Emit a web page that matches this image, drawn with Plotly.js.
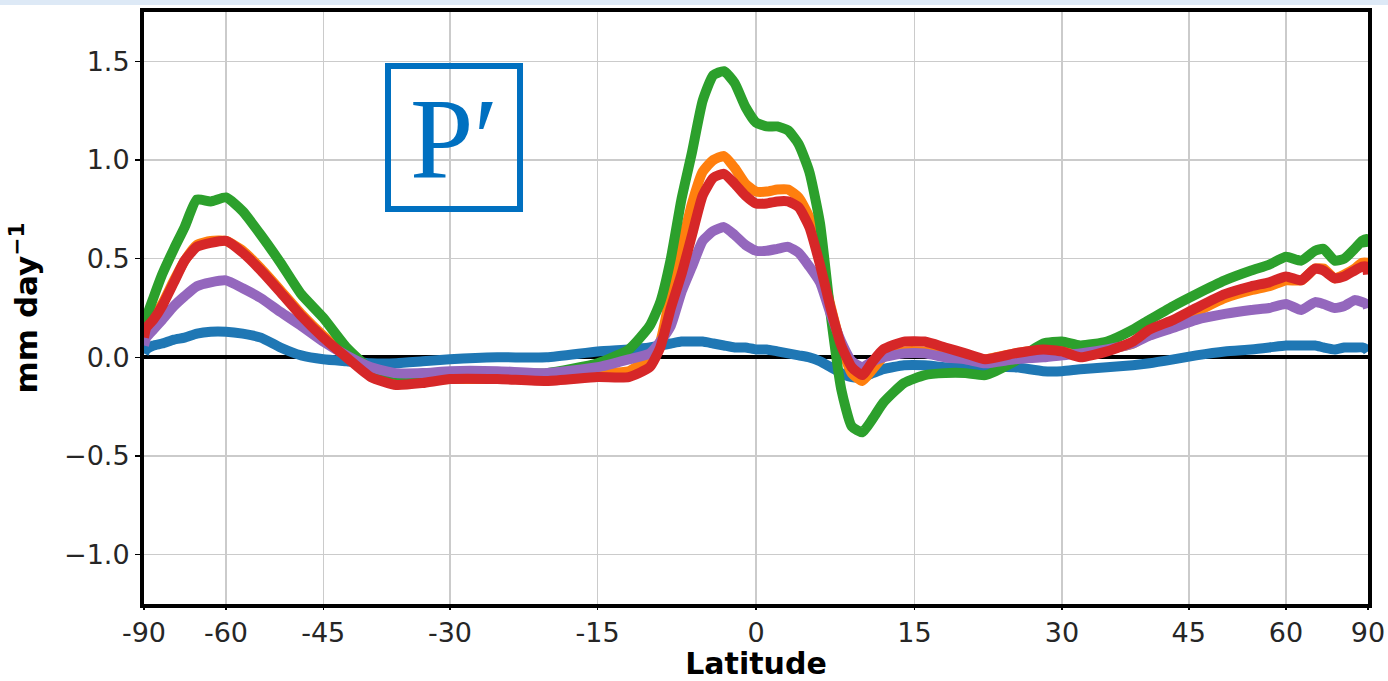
<!DOCTYPE html>
<html>
<head>
<meta charset="utf-8">
<script src="https://cdn.plot.ly/plotly-3.0.1.min.js"></script>
<style>
html,body{margin:0;padding:0;background:#ffffff;}
#chart{width:1388px;height:681px;}
</style>
</head>
<body>
<div id="chart"></div>
<script>
// Latitude grid (degrees)
const lat = [-90,-85,-80,-76,-72,-69,-66,-63,-60,-57,-54,-51,-48,-45,-42,-39,-36,-33,-30,-25,-20,-15,-12,-10,-9,-8,-7,-6,-5,-4,-3,-2,-1,0,1,2,3,4,5,6,7,8,9,10,11,12,14,16,18,20,22,25,28,30,32,35,38,40,43,46,50,54,57,60,63,66,68,71,74,78,82,86,90];

const blueVals = [0.02,0.04,0.06,0.07,0.09,0.10,0.12,0.13,0.13,0.12,0.10,0.05,0.01,-0.01,-0.02,-0.03,-0.03,-0.02,-0.01,0.00,0.00,0.03,0.04,0.05,0.06,0.07,0.08,0.08,0.08,0.07,0.06,0.05,0.05,0.04,0.04,0.03,0.02,0.01,0.00,-0.02,-0.05,-0.08,-0.10,-0.10,-0.08,-0.06,-0.04,-0.04,-0.05,-0.05,-0.05,-0.05,-0.07,-0.07,-0.06,-0.05,-0.04,-0.03,-0.01,0.01,0.03,0.04,0.05,0.06,0.06,0.06,0.05,0.04,0.05,0.05,0.05,0.04,0.03];

const orangeVals = [0.10,0.15,0.20,0.27,0.39,0.49,0.57,0.59,0.59,0.54,0.45,0.34,0.22,0.11,0.01,-0.09,-0.12,-0.12,-0.11,-0.11,-0.11,-0.08,-0.07,0.00,0.08,0.33,0.56,0.78,0.94,1.00,1.02,0.96,0.88,0.84,0.84,0.85,0.85,0.81,0.71,0.50,0.26,0.06,-0.08,-0.12,-0.06,0.00,0.03,0.03,0.02,0.00,-0.01,0.02,0.04,0.04,0.03,0.04,0.07,0.12,0.17,0.23,0.30,0.34,0.36,0.39,0.39,0.45,0.45,0.40,0.42,0.45,0.48,0.48,0.47];

const greenVals = [0.13,0.20,0.30,0.42,0.55,0.66,0.80,0.79,0.81,0.74,0.62,0.48,0.32,0.20,0.05,-0.06,-0.09,-0.09,-0.08,-0.08,-0.08,-0.03,0.04,0.16,0.28,0.50,0.80,1.04,1.30,1.43,1.45,1.39,1.27,1.19,1.17,1.17,1.15,1.08,0.94,0.68,0.22,-0.16,-0.35,-0.38,-0.31,-0.23,-0.13,-0.09,-0.08,-0.08,-0.09,-0.02,0.07,0.08,0.06,0.08,0.14,0.19,0.26,0.32,0.39,0.44,0.47,0.51,0.49,0.54,0.55,0.49,0.50,0.55,0.59,0.60,0.56];

const purpleVals = [0.06,0.10,0.14,0.19,0.26,0.31,0.36,0.38,0.39,0.35,0.30,0.23,0.16,0.08,0.01,-0.05,-0.08,-0.08,-0.07,-0.07,-0.08,-0.05,-0.01,0.02,0.08,0.16,0.33,0.46,0.59,0.64,0.66,0.62,0.57,0.54,0.54,0.55,0.56,0.53,0.46,0.38,0.22,0.08,-0.02,-0.05,-0.02,0.00,0.02,0.02,0.00,-0.01,-0.03,-0.01,0.00,0.01,0.02,0.04,0.07,0.11,0.15,0.19,0.22,0.24,0.25,0.27,0.24,0.28,0.27,0.25,0.26,0.29,0.28,0.27,0.25];

const redVals = [0.10,0.15,0.19,0.26,0.38,0.49,0.56,0.58,0.59,0.53,0.44,0.33,0.21,0.10,0.00,-0.10,-0.14,-0.13,-0.11,-0.11,-0.12,-0.10,-0.10,-0.05,0.05,0.25,0.42,0.62,0.82,0.91,0.93,0.88,0.82,0.78,0.78,0.79,0.79,0.76,0.66,0.47,0.25,0.06,-0.05,-0.09,-0.02,0.04,0.08,0.08,0.05,0.02,-0.01,0.02,0.04,0.03,0.00,0.03,0.08,0.14,0.19,0.25,0.32,0.36,0.38,0.41,0.39,0.45,0.44,0.40,0.41,0.44,0.46,0.46,0.42];

const tickLats = [-90,-60,-45,-30,-15,0,15,30,45,60,90];
const tickText = ['-90','-60','-45','-30','-15','0','15','30','45','60','90'];
const yTicks = [-1.0,-0.5,0.0,0.5,1.0,1.5];

const toX = l => Math.sin(l*Math.PI/180);
const xs = lat.map(toX);

const series = [
  {y: blueVals, c: '#1f77b4'},
  {y: orangeVals, c: '#ff7f0e'},
  {y: greenVals, c: '#2ca02c'},
  {y: purpleVals, c: '#9467bd'},
  {y: redVals, c: '#d62728'}
];

const traces = series.map(s => ({
  x: xs, y: s.y, type: 'scatter', mode: 'lines',
  line: {color: s.c, width: 10, shape: 'spline', smoothing: 0.5},
  hoverinfo: 'skip', showlegend: false
}));

const font = {family: 'DejaVu Sans, sans-serif', size: 27, color: '#262626'};

const layout = {
  width: 1388, height: 681,
  margin: {l: 144, r: 20, t: 12, b: 77},
  paper_bgcolor: '#ffffff', plot_bgcolor: '#ffffff',
  font: font,
  showlegend: false,
  xaxis: {
    range: [-1, 1],
    tickvals: tickLats.map(toX), ticktext: tickText,
    showgrid: true, gridcolor: '#cbcbcb', gridwidth: 1.5,
    zeroline: false,
    showline: true, linecolor: '#000000', linewidth: 4, mirror: true,
    ticks: 'outside', ticklen: 2, tickwidth: 1.5, tickcolor: '#000000',
    tickfont: font,
    title: {text: '<b>Latitude</b>', font: {family: 'DejaVu Sans, sans-serif', size: 30, color: '#000000'}, standoff: 4}
  },
  yaxis: {
    range: [-1.25, 1.75],
    tickvals: yTicks, tickformat: '.1f',
    showgrid: true, gridcolor: '#cbcbcb', gridwidth: 1.5,
    zeroline: true, zerolinecolor: '#000000', zerolinewidth: 4,
    showline: true, linecolor: '#000000', linewidth: 4, mirror: true,
    ticks: 'outside', ticklen: 5, tickwidth: 1.5, tickcolor: '#000000',
    tickfont: font,
    title: {text: '<b>mm day<sup>−1</sup></b>', font: {family: 'DejaVu Sans, sans-serif', size: 31, color: '#000000'}, standoff: 18}
  },
  shapes: [
    {type: 'rect', xref: 'paper', yref: 'paper', x0: -144/1224, x1: 1244/1224, y0: 1 + 7/592, y1: 1 + 12/592,
     fillcolor: '#dde9f6', line: {width: 0}, layer: 'below'},
    {type: 'rect', xref: 'x', yref: 'y', x0: -0.6013, x1: -0.3856, y0: 0.752, y1: 1.476,
     line: {color: '#0070c0', width: 6}, fillcolor: 'rgba(255,255,255,0)', layer: 'above'}
  ],
  annotations: [
    {xref: 'x', yref: 'y', x: -0.4935, y: 1.11, text: 'P′', showarrow: false,
     xanchor: 'center', yanchor: 'middle',
     font: {family: 'Liberation Serif, serif', size: 114, color: '#0070c0'}}
  ]
};

Plotly.newPlot('chart', traces, layout, {displayModeBar: false, staticPlot: true});
</script>
</body>
</html>
